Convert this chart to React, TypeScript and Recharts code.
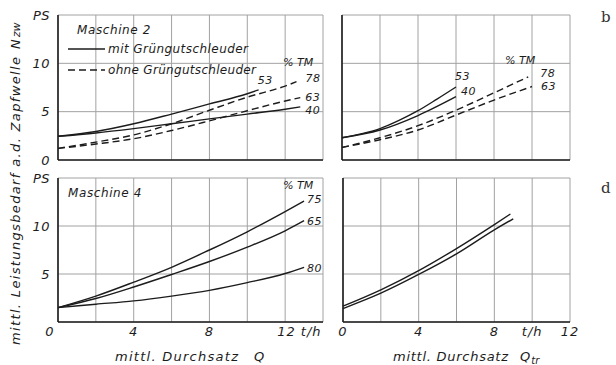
import React from "react";
import { LineChart, Line, XAxis, YAxis, CartesianGrid } from "recharts";

// Maschine 2, power vs. throughput Q (solid = mit, dashed = ohne Grüngutschleuder)
const m2Q_mit53_x = [0, 2, 4, 6, 8, 10, 10.6];
const m2Q_mit53_y = [2.45, 2.95, 3.75, 4.75, 5.8, 6.85, 7.25];
const m2Q_mit40_x = [0, 2, 4, 6, 8, 10, 12, 12.8];
const m2Q_mit40_y = [2.45, 2.8, 3.25, 3.75, 4.25, 4.75, 5.25, 5.5];
const m2Q_ohne78_x = [0, 2, 4, 6, 8, 10, 12, 12.6];
const m2Q_ohne78_y = [1.2, 1.85, 2.6, 3.75, 5.15, 6.5, 7.65, 8.1];
const m2Q_ohne63_x = [0, 2, 4, 6, 8, 10, 12, 12.8];
const m2Q_ohne63_y = [1.2, 1.65, 2.2, 3.05, 4.05, 5.1, 6.1, 6.45];

// Maschine 2, power vs. Q_tr
const m2Qtr_mit53_x = [0, 1, 2, 3, 4, 5, 6];
const m2Qtr_mit53_y = [2.3, 2.7, 3.25, 4.1, 5.1, 6.3, 7.55];
const m2Qtr_mit40_x = [0, 2, 4, 6];
const m2Qtr_mit40_y = [2.3, 3.1, 4.6, 6.55];
const m2Qtr_ohne78_x = [0, 2, 4, 6, 8, 9.8];
const m2Qtr_ohne78_y = [1.3, 2.3, 3.55, 5.15, 6.95, 8.6];
const m2Qtr_ohne63_x = [0, 2, 4, 6, 8, 10];
const m2Qtr_ohne63_y = [1.3, 2.1, 3.1, 4.65, 6.2, 7.6];

// Maschine 4, power vs. Q
const m4Q_x = [0, 2, 4, 6, 8, 10, 12, 13];
const m4Q_75 = [1.5, 2.7, 4.15, 5.7, 7.5, 9.4, 11.5, 12.6];
const m4Q_65 = [1.5, 2.45, 3.65, 4.95, 6.3, 7.8, 9.5, 10.55];
const m4Q_80 = [1.5, 1.85, 2.2, 2.7, 3.3, 4.1, 5.05, 5.7];

// Maschine 4, power vs. Q_tr
const m4Qtr_a_x = [0, 2, 4, 6, 8, 8.85];
const m4Qtr_a_y = [1.65, 3.35, 5.35, 7.65, 10.15, 11.25];
const m4Qtr_b_x = [0, 2, 4, 6, 8, 9.0];
const m4Qtr_b_y = [1.4, 3.0, 4.95, 7.1, 9.6, 10.75];

// axis ticks
const yTicks = [0, 5, 10, 15];
const xTicksQ = [0, 2, 4, 6, 8, 10, 12, 14];
const xTicksQtr = [0, 2, 4, 6, 8, 10, 12];
const xLabelsQ: Record<number, string> = { 0: "0", 4: "4", 8: "8", 12: "12 t/h" };
const xLabelsQtr: Record<number, string> = { 0: "0", 4: "4", 8: "8", 10: "t/h", 12: "12" };

const FONT = "'DejaVu Sans', sans-serif";
const INK = "#1c1c1c";
const GRID = "#a2a2a2";

type Pt = { x: number; y: number };
const pts = (xs: number[], ys: number[]): Pt[] => xs.map((x, i) => ({ x, y: ys[i] }));

type Series = { name: string; data: Pt[]; dashed?: boolean; dx?: number; dy?: number };

const m2Q: Series[] = [
  { name: "53", data: pts(m2Q_mit53_x, m2Q_mit53_y), dx: -1, dy: -6 },
  { name: "40", data: pts(m2Q_mit40_x, m2Q_mit40_y), dx: 5, dy: 7 },
  { name: "78", data: pts(m2Q_ohne78_x, m2Q_ohne78_y), dashed: true, dx: 9, dy: 0 },
  { name: "63", data: pts(m2Q_ohne63_x, m2Q_ohne63_y), dashed: true, dx: 5, dy: 3 },
];
const m2Qtr: Series[] = [
  { name: "53", data: pts(m2Qtr_mit53_x, m2Qtr_mit53_y), dx: -1, dy: -7 },
  { name: "40", data: pts(m2Qtr_mit40_x, m2Qtr_mit40_y), dx: 5, dy: -2 },
  { name: "78", data: pts(m2Qtr_ohne78_x, m2Qtr_ohne78_y), dashed: true, dx: 12, dy: 0 },
  { name: "63", data: pts(m2Qtr_ohne63_x, m2Qtr_ohne63_y), dashed: true, dx: 9, dy: 3 },
];
const m4Q: Series[] = [
  { name: "75", data: pts(m4Q_x, m4Q_75), dx: 3, dy: 2 },
  { name: "65", data: pts(m4Q_x, m4Q_65), dx: 3, dy: 4 },
  { name: "80", data: pts(m4Q_x, m4Q_80), dx: 3, dy: 5 },
];
const m4Qtr: Series[] = [
  { name: "", data: pts(m4Qtr_a_x, m4Qtr_a_y) },
  { name: "", data: pts(m4Qtr_b_x, m4Qtr_b_y) },
];

const textStyle = { fontFamily: FONT, fontStyle: "italic" as const, fill: INK };

// label written next to the last point of a curve
const endLabel = (s: Series) => (p: any) => {
  if (!s.name || p.index !== s.data.length - 1) return <g key={`e${p.index}`} />;
  return (
    <text key="end" x={p.x + (s.dx ?? 0)} y={p.y + (s.dy ?? 0)} fontSize={11} letterSpacing={0.5} {...textStyle}>
      {s.name}
    </text>
  );
};

const yTick = (show: boolean, skipZero: boolean) => (p: any) => {
  const v = p.payload.value;
  if (!show || (skipZero && v === 0)) return <g />;
  return (
    <text x={p.x} y={p.y} dy="0.36em" textAnchor="end" fontSize={13} letterSpacing={0.5} {...textStyle}>
      {v === 15 ? "PS" : v}
    </text>
  );
};

const xTick = (labels: Record<number, string> | null, zeroShift: number) => (p: any) => {
  const v = p.payload.value;
  const t = labels ? labels[v] : undefined;
  if (!t) return <g />;
  const wide = t.length > 3;
  return (
    <text
      x={p.x + (v === 0 ? zeroShift : wide ? -8 : 0)}
      y={p.y}
      dy="0.71em"
      textAnchor={wide ? "start" : "middle"}
      fontSize={13}
      letterSpacing={1}
      {...textStyle}
    >
      {t}
    </text>
  );
};

type PanelProps = {
  series: Series[];
  left: number;
  top: number;
  width: number;
  height: number;
  xMax: number;
  xTicks: number[];
  yAxisWidth: number;
  xAxisHeight: number;
  marginTop: number;
  marginRight: number;
  yLabels: boolean;
  skipZeroY: boolean;
  xLabels: Record<number, string> | null;
  zeroShift?: number;
};

function Panel(props: PanelProps) {
  const { series, left, top, width, height, xMax, xTicks, yAxisWidth, xAxisHeight } = props;
  return (
    <div style={{ position: "absolute", left, top }}>
      <LineChart
        width={width}
        height={height}
        margin={{ top: props.marginTop, right: props.marginRight, left: 0, bottom: 0 }}
      >
        <CartesianGrid stroke={GRID} strokeWidth={1} />
        <XAxis
          type="number"
          dataKey="x"
          domain={[0, xMax]}
          ticks={xTicks}
          interval={0}
          height={xAxisHeight}
          tickLine={false}
          tickSize={0}
          tickMargin={5}
          axisLine={{ stroke: INK, strokeWidth: 1.6 }}
          tick={xTick(props.xLabels, props.zeroShift ?? 0)}
        />
        <YAxis
          type="number"
          dataKey="y"
          domain={[0, 15]}
          ticks={yTicks}
          interval={0}
          width={yAxisWidth}
          tickLine={false}
          tickSize={0}
          tickMargin={8}
          axisLine={{ stroke: INK, strokeWidth: 1.6 }}
          tick={yTick(props.yLabels, props.skipZeroY)}
        />
        {series.map((s, i) => (
          <Line
            key={i}
            data={s.data}
            dataKey="y"
            type="monotone"
            stroke={INK}
            strokeWidth={1.4}
            strokeDasharray={s.dashed ? "7 4" : undefined}
            dot={false}
            activeDot={false}
            isAnimationActive={false}
            label={endLabel(s)}
          />
        ))}
      </LineChart>
    </div>
  );
}

function Annotations() {
  const t = { ...textStyle };
  return (
    <svg
      width={616}
      height={365}
      style={{ position: "absolute", left: 0, top: 0, pointerEvents: "none" }}
    >
      {/* vertical axis title */}
      <g transform="translate(20,345) rotate(-90)">
        <text x={0} y={0} fontSize={13} textLength={288} lengthAdjust="spacing" {...t}>
          mittl. Leistungsbedarf a.d. Zapfwelle
        </text>
        <text x={296} y={0} fontSize={13} {...t}>
          N
          <tspan fontSize={11} dx={2} dy={0}>zw</tspan>
        </text>
      </g>

      {/* Maschine 2 header and legend */}
      <text x={77} y={34} fontSize={12} letterSpacing={0.6} {...t}>Maschine 2</text>
      <line x1={68} y1={49} x2={105} y2={49} stroke={INK} strokeWidth={1.4} />
      <text x={108} y={53} fontSize={12} textLength={140} lengthAdjust="spacing" {...t}>
        mit Grüngutschleuder
      </text>
      <line x1={68} y1={70} x2={105} y2={70} stroke={INK} strokeWidth={1.4} strokeDasharray="7 4" />
      <text x={108} y={74} fontSize={12} textLength={148} lengthAdjust="spacing" {...t}>
        ohne Grüngutschleuder
      </text>
      <text x={283} y={66} fontSize={11} {...t}>% TM</text>
      <text x={505} y={64} fontSize={11} {...t}>% TM</text>

      {/* Maschine 4 header */}
      <text x={68} y={197} fontSize={12} letterSpacing={0.6} {...t}>Maschine 4</text>
      <text x={283} y={189} fontSize={11} {...t}>% TM</text>

      {/* horizontal axis titles */}
      <text x={115} y={361} fontSize={13} textLength={123} lengthAdjust="spacing" {...t}>
        mittl. Durchsatz
      </text>
      <text x={254} y={361} fontSize={13} {...t}>Q</text>
      <text x={393} y={361} fontSize={13} textLength={115} lengthAdjust="spacing" {...t}>
        mittl. Durchsatz
      </text>
      <text x={520} y={361} fontSize={13} {...t}>
        Q<tspan fontSize={10} dx={1} dy={3}>tr</tspan>
      </text>

      {/* panel letters */}
      <text x={601} y={22} fontSize={15} fontFamily="'DejaVu Serif', serif" fill="#333">b</text>
      <text x={601} y={193} fontSize={15} fontFamily="'DejaVu Serif', serif" fill="#333">d</text>
    </svg>
  );
}

export default function App() {
  return (
    <div
      style={{
        position: "absolute",
        left: 0,
        top: 0,
        width: 616,
        height: 365,
        background: "#fff",
        overflow: "hidden",
      }}
    >
      <Panel
        series={m2Q}
        left={0}
        top={0}
        width={335}
        height={175}
        xMax={14}
        xTicks={xTicksQ}
        yAxisWidth={58}
        xAxisHeight={15}
        marginTop={15}
        marginRight={12}
        yLabels
        skipZeroY={false}
        xLabels={null}
      />
      <Panel
        series={m2Qtr}
        left={330}
        top={0}
        width={250}
        height={175}
        xMax={12}
        xTicks={xTicksQtr}
        yAxisWidth={12}
        xAxisHeight={15}
        marginTop={15}
        marginRight={10}
        yLabels={false}
        skipZeroY
        xLabels={null}
      />
      <Panel
        series={m4Q}
        left={0}
        top={160}
        width={335}
        height={205}
        xMax={14}
        xTicks={xTicksQ}
        yAxisWidth={58}
        xAxisHeight={43}
        marginTop={18}
        marginRight={12}
        yLabels
        skipZeroY
        xLabels={xLabelsQ}
        zeroShift={-8}
      />
      <Panel
        series={m4Qtr}
        left={330}
        top={160}
        width={250}
        height={205}
        xMax={12}
        xTicks={xTicksQtr}
        yAxisWidth={13}
        xAxisHeight={43}
        marginTop={18}
        marginRight={10}
        yLabels={false}
        skipZeroY
        xLabels={xLabelsQtr}
      />
      <Annotations />
    </div>
  );
}
